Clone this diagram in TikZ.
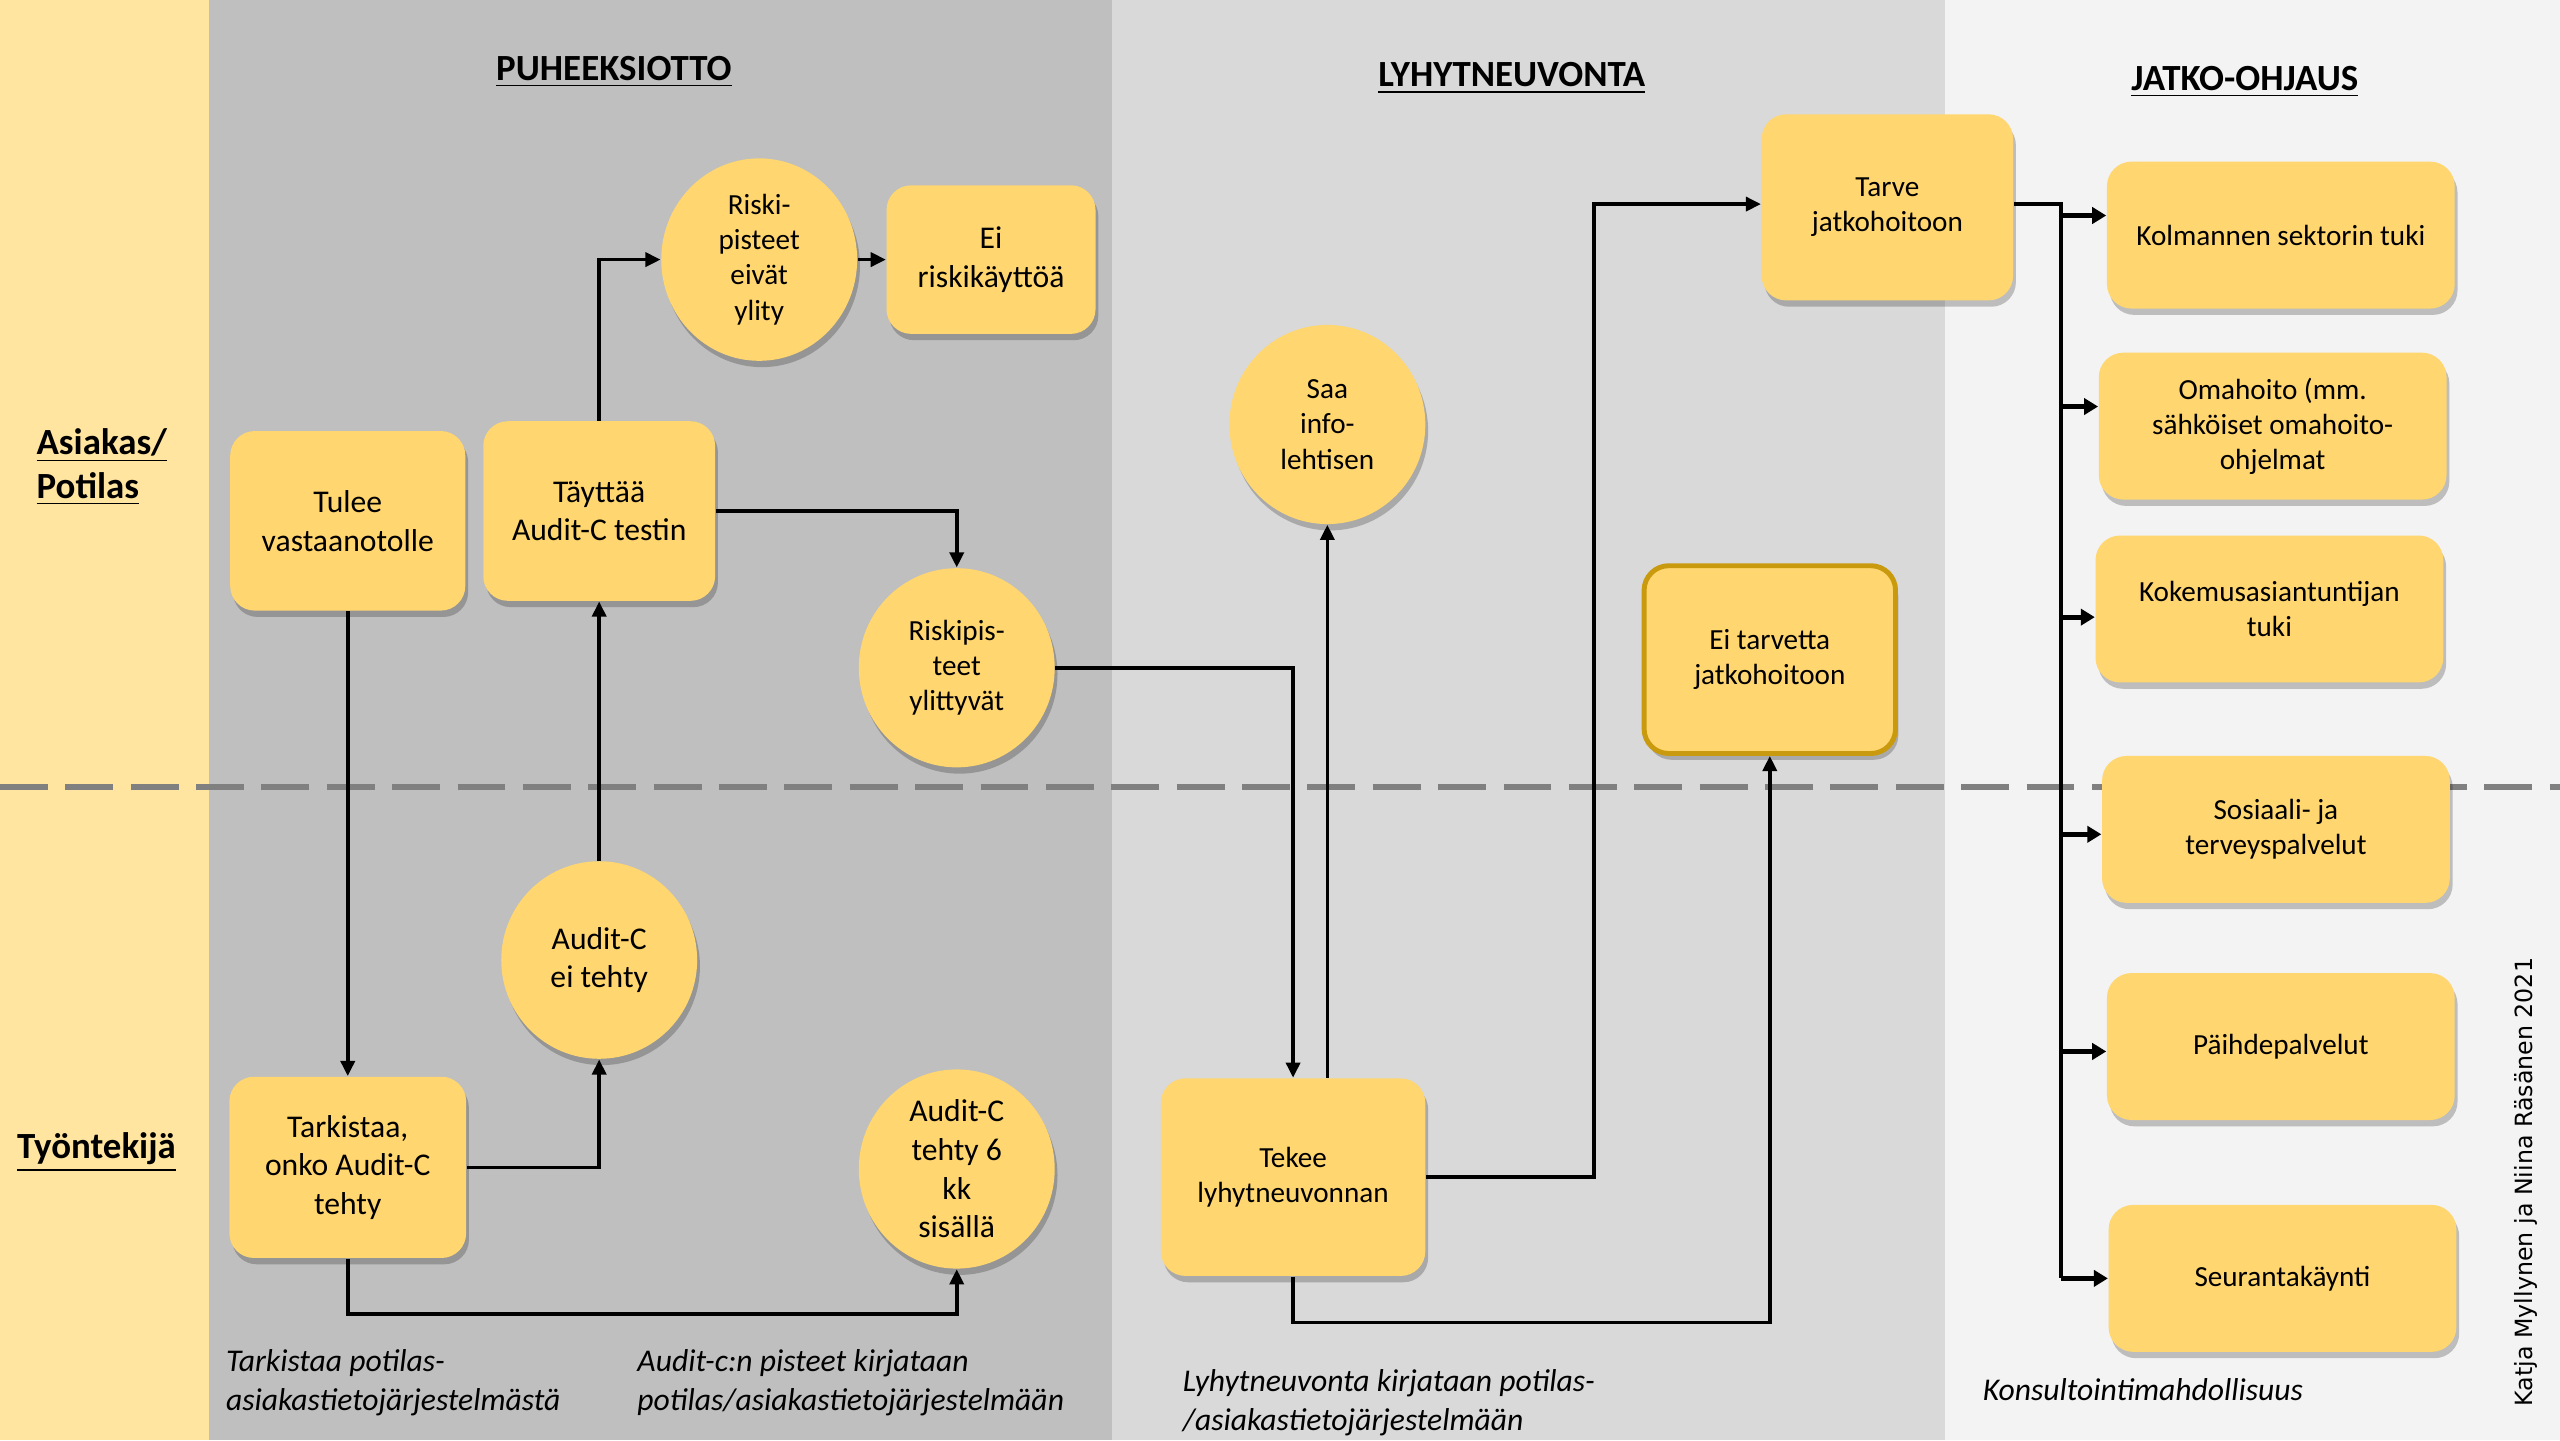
\documentclass[tikz,border=0pt]{standalone}
\usepackage{fontspec}
\setmainfont{Carlito}
\newfontfamily\dejavu{DejaVu Sans}
\usetikzlibrary{shapes.geometric,shadows,arrows.meta}
\definecolor{nodey}{HTML}{FFD66F}
\definecolor{bandy}{HTML}{FFE5A0}
\definecolor{gA}{HTML}{BFBFBF}
\definecolor{gB}{HTML}{D9D9D9}
\definecolor{gC}{HTML}{F3F3F3}
\definecolor{dashg}{HTML}{808080}
\definecolor{goldb}{HTML}{C99A0E}
\begin{document}
\begin{tikzpicture}[x=0.46453pt,y=-0.46453pt,
  shd/.style={drop shadow={shadow xshift=0.8pt,shadow yshift=-1.8pt,fill=black,opacity=0.22}},
  fnA/.style={font=\fontsize{9}{11}\selectfont},
  fnB/.style={font=\fontsize{8.3}{10}\selectfont},
  bx/.style 2 args={rectangle,rounded corners=7pt,fill=nodey,shd,align=center,inner sep=1pt,minimum width=#1*0.46453pt,minimum height=#2*0.46453pt},
  el/.style 2 args={ellipse,fill=nodey,shd,align=center,inner sep=0pt,minimum width=#1*0.46453pt,minimum height=#2*0.46453pt},
  arr/.style={draw=black,line width=1pt,-{Triangle[length=4.3pt,width=4pt]}},
  barr/.style={draw=black,line width=1.4pt,-{Triangle[length=4pt,width=4.6pt]}},
  hdr/.style={font=\fontsize{10.5}{12}\selectfont\bfseries,inner sep=0pt},
  lane/.style={font=\fontsize{10.5}{12.6}\selectfont\bfseries,align=left,anchor=west,inner sep=0pt},
  note/.style={font=\fontsize{9}{11.1}\selectfont\itshape,align=left,anchor=west,inner sep=0pt}
]
\useasboundingbox (0,0) rectangle (1568,882);
% background bands
\fill[bandy] (0,0) rectangle (128,882);
\fill[gA] (128,0) rectangle (681,882);
\fill[gB] (681,0) rectangle (1191,882);
\fill[gC] (1191,0) rectangle (1568,882);
\draw[dashg,line width=1.6pt,dash pattern=on 13.6pt off 5pt] (0,482) -- (1568,482);

% headers and lane labels
\node[hdr] (h1) at (376,44) {\underline{PUHEEKSIOTTO}};
\node[hdr] (h2) at (926,48) {\underline{LYHYTNEUVONTA}};
\node[hdr] (h3) at (1375,50) {\underline{JATKO-OHJAUS}};
\node[lane] (l1) at (22,286) {\underline{Asiakas/}\\\underline{Potilas}};
\node[lane] (l2) at (10,706) {\underline{Työntekijä}};

% nodes
\node[bx={144}{110},fnA] (tulee) at (213,319) {Tulee\\vastaanotolle};
\node[bx={142}{110},fnA] (tayttaa) at (367,313) {Täyttää\\Audit-C testin};
\node[el={120}{124},fnB] (riskiei) at (465,159) {Riski-\\pisteet\\eivät\\ylity};
\node[bx={128}{91},fnA] (eiriski) at (607,159) {Ei\\riskikäyttöä};
\node[el={120}{122},fnB] (riskiyl) at (586,409) {Riskipis-\\teet\\ylittyvät};
\node[el={120}{121},fnA] (auditei) at (367,588) {Audit-C\\ei tehty};
\node[bx={145}{111},fnA] (tark) at (213,715) {Tarkistaa,\\onko Audit-C\\tehty};
\node[el={120}{122},fnA] (audit6) at (586,716) {Audit-C\\tehty 6\\kk\\sisällä};
\node[el={120}{122},fnB] (saa) at (813,260) {Saa\\info-\\lehtisen};
\node[bx={154}{114},fnB] (tarve) at (1156,127) {Tarve\\jatkohoitoon};
\node[bx={154}{115},fnB,draw=goldb,line width=1.4pt] (eitarve) at (1084,404) {Ei tarvetta\\jatkohoitoon};
\node[bx={162}{121},fnB] (tekee) at (792,721) {Tekee\\lyhytneuvonnan};
\node[bx={213}{90},fnB] (kol) at (1397,144) {Kolmannen sektorin tuki};
\node[bx={213}{90},fnB] (oma) at (1392,261) {Omahoito (mm.\\sähköiset omahoito-\\ohjelmat};
\node[bx={213}{90},fnB] (koke) at (1390,373) {Kokemusasiantuntijan\\tuki};
\node[bx={213}{90},fnB] (sos) at (1394,508) {Sosiaali- ja\\terveyspalvelut};
\node[bx={213}{90},fnB] (paihde) at (1397,641) {Päihdepalvelut};
\node[bx={213}{90},fnB] (seur) at (1398,783) {Seurantakäynti};

% notes
\node[note] (n1) at (138,847) {Tarkistaa potilas-\\asiakastietojärjestelmästä};
\node[note] (n2) at (390,847) {Audit-c:n pisteet kirjataan\\potilas/asiakastietojärjestelmään};
\node[note] (n3) at (724,859) {Lyhytneuvonta kirjataan potilas-\\/asiakastietojärjestelmään};
\node[note] (n4) at (1214,851) {Konsultointimahdollisuus};
\node[rotate=90,font=\dejavu\fontsize{6.75}{8}\selectfont,inner sep=0pt] (credit) at (1547,724) {Katja Myllynen ja Niina Räsänen 2021};

% connectors
\draw[arr] (tulee.south) -- (tark.north);
\draw[arr] (tark.east) -| (auditei.south);
\draw[arr] (auditei.north) -- (tayttaa.south);
\draw[arr] (tayttaa.north) |- (riskiei.west);
\draw[arr] (riskiei.east) -- (eiriski.west);
\draw[arr] (tayttaa.east) -| (riskiyl.north);
\draw[arr] (riskiyl.east) -| (tekee.north);
\draw[arr] (tekee.north -| saa.south) -- (saa.south);
\draw[arr] (tekee.east) -- ++(103,0) |- ([yshift=2*0.46453pt]tarve.west);
\draw[arr] (tekee.south) -- ++(0,28) -| (eitarve.south);
\draw[arr] (tark.south) -- ++(0,34) -| (audit6.south);

% distribution bus
\coordinate (kin) at ([yshift=12*0.46453pt]kol.west);
\coordinate (oin) at ([yshift=12*0.46453pt]oma.west);
\coordinate (kkin) at ([yshift=-5*0.46453pt]koke.west);
\coordinate (sin) at ([yshift=-3*0.46453pt]sos.west);
\coordinate (pin) at ([yshift=-3*0.46453pt]paihde.west);
\coordinate (sein) at (seur.west);
\draw[line width=1pt] ([yshift=2*0.46453pt]tarve.east) -- ++(29,0) coordinate (bus) -- (bus |- sein);
\draw[barr] (bus |- kin) -- (kin);
\draw[barr] (bus |- oin) -- (oin);
\draw[barr] (bus |- kkin) -- (kkin);
\draw[barr] (bus |- sin) -- (sin);
\draw[barr] (bus |- pin) -- (pin);
\draw[barr] (bus |- sein) -- (sein);
\end{tikzpicture}
\end{document}
